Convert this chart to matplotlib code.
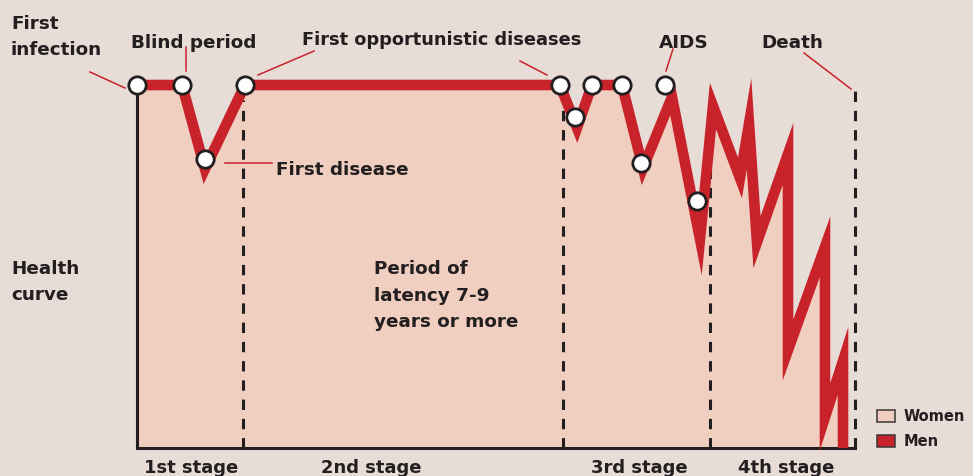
import matplotlib
matplotlib.use("Agg")
import numpy as np
import matplotlib.pyplot as plt
from matplotlib.lines import Line2D
from matplotlib.patches import Rectangle, Polygon
from matplotlib.transforms import IdentityTransform

# ---------------- data ----------------
# time: 0..100 across the chart, health: 0..100
curve_time = [0, 6.27, 9.47, 15.04, 58.91, 61.28, 63.37, 67.55, 70.47, 74.51, 78.41,
              80.22, 83.98, 85.24, 86.35, 90.67, 90.67, 95.82, 95.82, 98.33, 98.33]
curve_health = [100, 100, 76.9, 100, 100, 88.2, 100, 100, 77.1, 96.7, 57.6,
                94.2, 74.4, 89.3, 56.7, 81.0, 27.0, 55.4, 8.5, 24.0, 0]

event_time = [0, 6.27, 9.47, 15.04, 58.91, 61.0, 63.37, 67.55, 70.2, 73.5, 78.0]
event_health = [100, 100, 79.6, 100, 100, 91.2, 100, 100, 78.5, 100, 68.0]

stage_bounds = [14.8, 59.3, 79.8, 100]
stage_bound_tops = [96, 100, 100, 99]
stage_labels = ["1st stage", "2nd stage", "3rd stage", "4th stage"]
legend_labels = ["Women", "Men"]

# ---------------- style ----------------
W, H = 973, 477
BG = "#e8dcd7"
FILL = "#f0cfc0"
RED = "#c8222b"
INK = "#231f20"
FONT = "DejaVu Sans"

fig = plt.figure(figsize=(W / 100, H / 100), dpi=100, facecolor=BG)
# axes region in pixels: x 137..855, y 449 (health 0) .. 86 (health 100)
ax = fig.add_axes([137 / W, 1 - 449 / H, (855 - 137) / W, (449 - 86) / H])
ax.set_xlim(0, 100)
ax.set_ylim(0, 100)
ax.set_axis_off()
ax.patch.set_alpha(0)


def fx(px):
    return px / W


def fy(py):
    return 1 - py / H


def stroke_polygon(xy, hw):
    """Outline of a thick polyline with sharp (unlimited) miter joins and butt ends."""
    p = np.asarray(xy, float)
    d = np.diff(p, axis=0)
    d /= np.hypot(d[:, 0], d[:, 1])[:, None]
    n = np.column_stack([-d[:, 1], d[:, 0]])
    left, right = [], []
    for i in range(len(p)):
        if i == 0:
            m, s = n[0], 1.0
        elif i == len(p) - 1:
            m, s = n[-1], 1.0
        else:
            m = n[i - 1] + n[i]
            m = m / np.hypot(*m)
            s = 1.0 / np.dot(m, n[i])
        left.append(p[i] + m * hw * s)
        right.append(p[i] - m * hw * s)
    return np.vstack([left, right[::-1]])


# women fill under curve
ax.fill_between(curve_time, curve_health, 0, color=FILL, lw=0, zorder=1, clip_on=False)

# stage boundaries (dashed)
for xb, top in zip(stage_bounds, stage_bound_tops):
    ax.plot([xb, xb], [0, top], color=INK, lw=2.2, dashes=(3.4, 2.9),
            zorder=2, clip_on=False, solid_capstyle="butt", dash_capstyle="butt")

# axis lines
ax.plot([0, 0], [0, 100], color=INK, lw=2.2, zorder=3, clip_on=False, solid_capstyle="butt")
ax.plot([0, stage_bounds[-1]], [0, 0], color=INK, lw=2.2, zorder=3, clip_on=False,
        solid_capstyle="projecting")

# men curve: thick stroke with sharp miter spikes
disp = ax.transData.transform(np.column_stack([curve_time, curve_health]))
poly = stroke_polygon(disp, 5.3)
ax.add_patch(Polygon(poly, closed=True, transform=IdentityTransform(), facecolor=RED,
                     edgecolor="none", zorder=4, clip_on=False))

# events
ax.plot(event_time, event_health, ls="none", marker="o", ms=12.5, mfc="white",
        mec=INK, mew=2.0, zorder=5, clip_on=False)

# stage labels
stage_centers = [7.6, 32.6, 70.0, 90.4]
for xc, lab in zip(stage_centers, stage_labels):
    ax.text(xc, -6.6, lab, ha="center", va="baseline", fontsize=13, fontweight="bold",
            family=FONT, color=INK, clip_on=False)


# annotations text
def label(px, py, s, size=13.2):
    fig.text(fx(px), fy(py), s, ha="left", va="baseline", fontsize=size,
             fontweight="bold", family=FONT, color=INK)


label(11, 29, "First")
label(11, 55, "infection")
label(131, 48, "Blind period")
label(302, 45, "First opportunistic diseases", size=12.8)
label(659, 48, "AIDS")
label(761, 48, "Death")
label(276, 175, "First disease")
label(11, 274, "Health")
label(11, 300, "curve")
label(374, 274, "Period of")
label(374, 301, "latency 7-9")
label(374, 327, "years or more")

# leader lines
leaders = [((90, 73), (125, 89)),
           ((186, 48), (186, 72)),
           ((258, 76), (314, 52)),
           ((520, 62), (547, 76)),
           ((673, 50), (666, 72)),
           ((804, 54), (851, 90)),
           ((225, 164), (272, 164))]
for (x1, y1), (x2, y2) in leaders:
    fig.add_artist(Line2D([fx(x1), fx(x2)], [fy(y1), fy(y2)], transform=fig.transFigure,
                          color=RED, lw=1.1, zorder=6))

# legend
for (top, col, lab) in [(411, FILL, legend_labels[0]), (436, RED, legend_labels[1])]:
    fig.add_artist(Rectangle((fx(877), fy(top + 11.5)), 18 / W, 11.5 / H,
                             transform=fig.transFigure, facecolor=col,
                             edgecolor="#3a3536", lw=1.1))
    label(904, top + 10.5, lab, size=10.5)

fig.savefig("out.png", dpi=100, facecolor=BG)
